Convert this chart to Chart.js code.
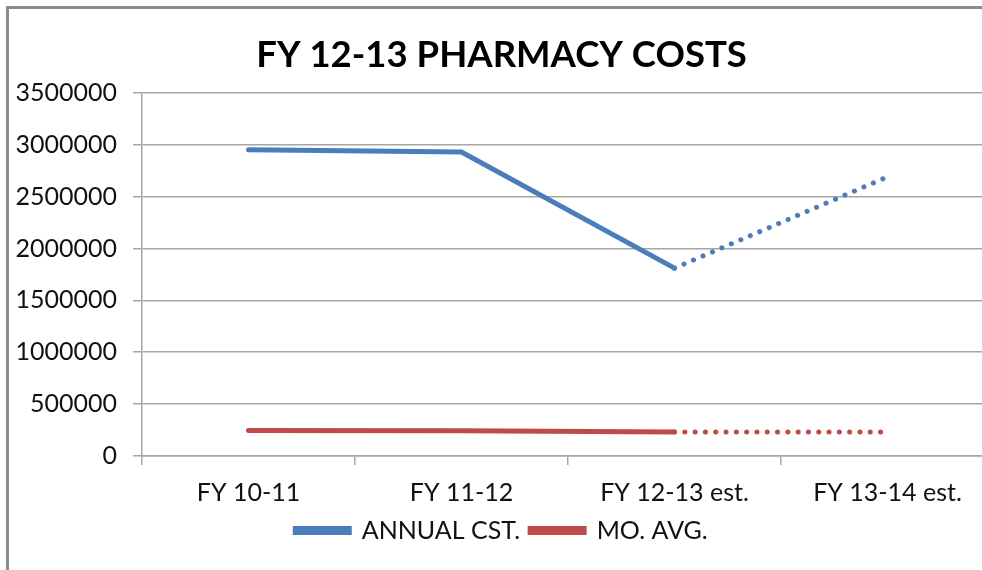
<!DOCTYPE html>
<html>
<head>
<meta charset="utf-8">
<script src="https://cdn.jsdelivr.net/npm/chart.js@4/dist/chart.umd.min.js"></script>
<style>
  html, body { margin: 0; padding: 0; background: #fff; overflow: hidden; }
  body { width: 982px; height: 570px; position: relative; }
  .frame {
    position: absolute; left: 6px; top: 6px; width: 1010px; height: 600px;
    border-left: 3px solid #8c8c8c; border-top: 3px solid #8c8c8c;
  }
  .wrap { position: absolute; left: 9px; top: 9px; width: 995px; height: 566px; }
</style>
</head>
<body>
<div class="frame"></div>
<div class="wrap"><canvas id="chart"></canvas></div>
<script>
// ── Data ─────────────────────────────────────────────
const categories = ['FY 10-11', 'FY 11-12', 'FY 12-13 est.', 'FY 13-14 est.'];
const annualCost = [2950000, 2930000, 1810000, 2690000];
const monthlyAvg = [245000, 243000, 232000, 232000];
const yTicks = [0, 500000, 1000000, 1500000, 2000000, 2500000, 3000000, 3500000];

const COLORS = {
  blue: '#4a7ebb',
  red: '#be4b48',
  grid: '#a6a6a6',
  text: '#111',
};

const FONT = 'Lato, "Open Sans", sans-serif';

// last segment (estimate) is dotted
const dotted = ctx => ctx.p1DataIndex === categories.length - 1 ? [0.1, 10.2] : undefined;

new Chart(document.getElementById('chart'), {
  type: 'line',
  data: {
    labels: categories,
    datasets: [
      {
        label: 'ANNUAL CST.',
        data: annualCost,
        borderColor: COLORS.blue,
        backgroundColor: COLORS.blue,
        borderWidth: 5,
        borderCapStyle: 'round',
        pointRadius: 0,
        segment: { borderDash: dotted },
      },
      {
        label: 'MO. AVG.',
        data: monthlyAvg,
        borderColor: COLORS.red,
        backgroundColor: COLORS.red,
        borderWidth: 5,
        borderCapStyle: 'round',
        pointRadius: 0,
        segment: { borderDash: dotted },
      },
    ],
  },
  options: {
    responsive: true, maintainAspectRatio: false,
    animation: false,
    layout: { padding: { left: 0, right: 10, top: 0, bottom: 22 } },
    plugins: {
      title: {
        display: true,
        text: 'FY 12-13 PHARMACY COSTS',
        color: '#000',
        font: { family: FONT, size: 36.5, weight: 'bold' },
        padding: { top: 24, bottom: 16 },
      },
      legend: {
        position: 'bottom',
        labels: {
          font: { family: FONT, size: 25, lineHeight: 1 },
          color: COLORS.text,
          boxWidth: 54,
          boxHeight: 4,
          padding: 10,
        },
      },
      tooltip: { enabled: false },
    },
    scales: {
      x: {
        offset: true,
        afterFit: axis => { axis.height = 52; },
        grid: { offset: true, drawOnChartArea: false, drawTicks: true, tickLength: 9, color: COLORS.grid, lineWidth: 1.5 },
        border: { color: COLORS.grid, width: 1.5 },
        ticks: { font: { family: FONT, size: 25 }, color: COLORS.text, padding: 13, maxRotation: 0 },
      },
      y: {
        min: 0, max: 3500000,
        afterBuildTicks: axis => { axis.ticks = yTicks.map(v => ({ value: v })); },
        afterFit: axis => { axis.width = 133; },
        grid: { color: COLORS.grid, lineWidth: 1.5, tickLength: 9 },
        border: { color: COLORS.grid, width: 1.5 },
        ticks: { font: { family: FONT, size: 25 }, color: COLORS.text, padding: 16, callback: v => String(v) },
      },
    },
  },
});
</script>
</body>
</html>
